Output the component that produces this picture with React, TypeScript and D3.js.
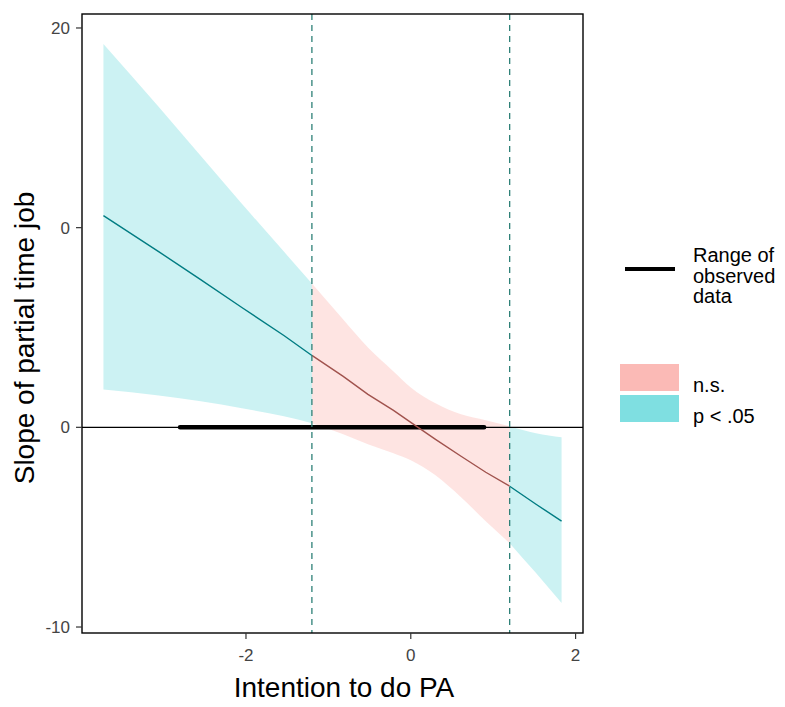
import React from "react";
import * as d3 from "d3";

// values
const intentionVals = [-3.73, -3.06, -2.55, -2.05, -1.54, -1.2, -0.82, -0.52, -0.21, 0, 0.3, 0.61, 0.91, 1.2, 1.52, 1.83];
const estimateVals = [10.6, 8.8, 7.4, 6.0, 4.6, 3.6, 2.55, 1.65, 0.85, 0.25, -0.6, -1.45, -2.25, -2.95, -3.85, -4.7];
const upperVals = [19.2, 16.05, 13.6, 11.2, 8.8, 7.2, 5.4, 4.0, 2.8, 2.0, 1.2, 0.65, 0.35, 0.05, -0.3, -0.5];
const lowerVals = [1.9, 1.6, 1.3, 0.95, 0.55, 0.2, -0.35, -0.85, -1.3, -1.65, -2.4, -3.5, -4.7, -5.8, -7.3, -8.8];
const jnBounds = [-1.2, 1.2];
const observedRange = [-2.8, 0.89];

const xTicks = [-2, 0, 2];
const xTickLabels = ["-2", "0", "2"];
const yTicks = [20, 10, 0, -10];
const yTickLabels = ["20", "0", "0", "-10"];

const rangeLegendLines = ["Range of", "observed", "data"];
const legendKeys = ["n.s.", "p < .05"];

const CYAN = "#00BFC4";
const PINK = "#F8766D";
const FONT = "Liberation Sans, Arial, sans-serif";

type Pt = { x: number; est: number; lo: number; hi: number };

const points: Pt[] = intentionVals.map((x, i) => ({
  x,
  est: estimateVals[i],
  lo: lowerVals[i],
  hi: upperVals[i],
}));

const segments = [
  { pts: points.filter((p) => p.x <= jnBounds[0]), fill: CYAN, line: "#007C82" },
  { pts: points.filter((p) => p.x >= jnBounds[0] && p.x <= jnBounds[1]), fill: PINK, line: "#A0524D" },
  { pts: points.filter((p) => p.x >= jnBounds[1]), fill: CYAN, line: "#007C82" },
];

export default function App() {
  const width = 785;
  const height = 707;
  const panel = { left: 82, right: 583, top: 14, bottom: 633 };

  const x = d3.scaleLinear().domain([-3.99, 2.09]).range([panel.left, panel.right]);
  const y = d3.scaleLinear().domain([-10.3, 20.7]).range([panel.bottom, panel.top]);

  const area = d3
    .area<Pt>()
    .x((d) => x(d.x))
    .y0((d) => y(d.lo))
    .y1((d) => y(d.hi))
    .curve(d3.curveMonotoneX);
  const line = d3
    .line<Pt>()
    .x((d) => x(d.x))
    .y((d) => y(d.est));

  return (
    <svg
      width={width}
      height={height}
      style={{ position: "absolute", left: 0, top: 0, background: "#fff" }}
      fontFamily={FONT}
    >
      {/* confidence bands */}
      {segments.map((s, i) => (
        <path key={"a" + i} d={area(s.pts) || ""} fill={s.fill} fillOpacity={0.2} />
      ))}

      {/* zero line */}
      <line x1={panel.left} x2={panel.right} y1={y(0)} y2={y(0)} stroke="#000" strokeWidth={1.3} />

      {/* observed data range */}
      <line
        x1={x(observedRange[0])}
        x2={x(observedRange[1])}
        y1={y(0)}
        y2={y(0)}
        stroke="#000"
        strokeWidth={4.5}
        strokeLinecap="round"
      />

      {/* estimate lines */}
      {segments.map((s, i) => (
        <path key={"l" + i} d={line(s.pts) || ""} fill="none" stroke={s.line} strokeWidth={1.4} />
      ))}

      {/* Johnson-Neyman boundaries */}
      {jnBounds.map((b) => (
        <line
          key={b}
          x1={x(b)}
          x2={x(b)}
          y1={panel.top}
          y2={panel.bottom}
          stroke="#2E8077"
          strokeWidth={1.3}
          strokeDasharray="6 5"
        />
      ))}

      {/* panel border */}
      <rect
        x={panel.left}
        y={panel.top}
        width={panel.right - panel.left}
        height={panel.bottom - panel.top}
        fill="none"
        stroke="#000"
        strokeWidth={1.4}
      />

      {/* y axis */}
      {yTicks.map((t, i) => (
        <g key={"y" + t} transform={`translate(${panel.left},${y(t)})`}>
          <line x1={-6} x2={0} stroke="#333" strokeWidth={1.2} />
          <text x={-12} dy="0.36em" textAnchor="end" fontSize={17} fill="#444">
            {yTickLabels[i]}
          </text>
        </g>
      ))}

      {/* x axis */}
      {xTicks.map((t, i) => (
        <g key={"x" + t} transform={`translate(${x(t)},${panel.bottom})`}>
          <line y1={0} y2={6} stroke="#333" strokeWidth={1.2} />
          <text y={28} textAnchor="middle" fontSize={17} fill="#444">
            {xTickLabels[i]}
          </text>
        </g>
      ))}

      {/* axis titles */}
      <text x={344} y={697} textAnchor="middle" fontSize={28} fill="#000">
        Intention to do PA
      </text>
      <text
        transform="translate(34,338) rotate(-90)"
        textAnchor="middle"
        fontSize={28}
        fill="#000"
      >
        Slope of partial time job
      </text>

      {/* legend: observed range */}
      <line x1={625} x2={675} y1={269} y2={269} stroke="#000" strokeWidth={4} />
      {rangeLegendLines.map((t, i) => (
        <text key={t} x={693} y={262 + i * 20.5} fontSize={20} fill="#000">
          {t}
        </text>
      ))}

      {/* legend: significance */}
      {legendKeys.map((k, i) => (
        <g key={k} transform={`translate(620,${364 + i * 31})`}>
          <rect width={59} height={27} fill={i === 0 ? PINK : CYAN} fillOpacity={0.5} />
          <text x={73} y={28} fontSize={20} fill="#000">
            {k}
          </text>
        </g>
      ))}
    </svg>
  );
}
